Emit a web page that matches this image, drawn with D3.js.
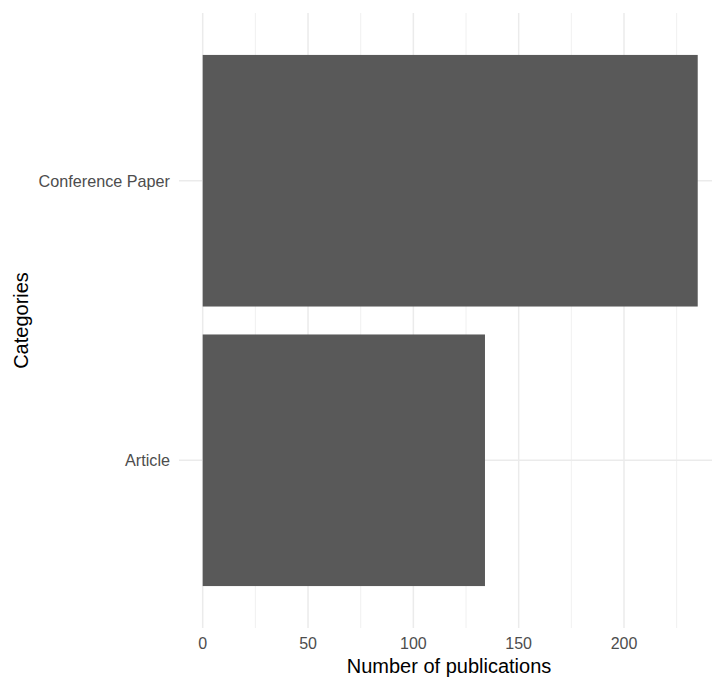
<!DOCTYPE html>
<html>
<head>
<meta charset="utf-8">
<script src="https://cdn.jsdelivr.net/npm/d3@7"></script>
<style>
  html, body { margin: 0; padding: 0; background: #ffffff; }
  svg { display: block; }
  text { font-family: "Liberation Sans", Arial, sans-serif; }
</style>
</head>
<body>
<svg id="chart" width="712" height="677"></svg>
<script>
// Data
const categories = ["Article", "Conference Paper"];
const publications = [134, 235];
const majorTicks = [0, 50, 100, 150, 200];
const minorTicks = [25, 75, 125, 175, 225];
const xTitle = "Number of publications";
const yTitle = "Categories";

const svg = d3.select("#chart");
const W = 712, H = 677;

// panel geometry
const panel = { left: 179, top: 13, bottom: 628 };

// x: continuous scale
const x = d3.scaleLinear()
  .domain([0, 200])
  .range([202.7, 624]);
// discrete y with 0.6 expansion
const yPos = d3.scaleLinear()
  .domain([0.4, 2.6])
  .range([panel.bottom, panel.top]);
const yIndex = c => categories.indexOf(c) + 1;
const bandPx = Math.abs(yPos(2) - yPos(1));
const barH = bandPx * 0.9;

const g = svg.append("g");

// clip
svg.append("defs").append("clipPath").attr("id", "clipP")
  .append("rect").attr("x", panel.left).attr("y", panel.top)
  .attr("width", W - panel.left).attr("height", panel.bottom - panel.top);

const grid = g.append("g").attr("clip-path", "url(#clipP)");

// minor vertical gridlines
grid.selectAll("line.minor").data(minorTicks).enter().append("line")
  .attr("x1", d => x(d)).attr("x2", d => x(d))
  .attr("y1", panel.top).attr("y2", panel.bottom)
  .attr("stroke", "#ebebeb").attr("stroke-width", 0.75);

// major vertical gridlines
grid.selectAll("line.major").data(majorTicks).enter().append("line")
  .attr("x1", d => x(d)).attr("x2", d => x(d))
  .attr("y1", panel.top).attr("y2", panel.bottom)
  .attr("stroke", "#ebebeb").attr("stroke-width", 1.5);

// major horizontal gridlines at categories
grid.selectAll("line.hmajor").data(categories).enter().append("line")
  .attr("x1", panel.left).attr("x2", W)
  .attr("y1", d => yPos(yIndex(d))).attr("y2", d => yPos(yIndex(d)))
  .attr("stroke", "#ebebeb").attr("stroke-width", 1.5);

// bars
g.selectAll("rect.bar").data(categories).enter().append("rect")
  .attr("x", x(0))
  .attr("y", d => yPos(yIndex(d)) - barH / 2)
  .attr("width", (d, i) => x(publications[i]) - x(0))
  .attr("height", barH)
  .attr("fill", "#595959");

// x tick labels
g.selectAll("text.xtick").data(majorTicks).enter().append("text")
  .attr("x", d => x(d)).attr("y", 649)
  .attr("text-anchor", "middle")
  .attr("font-size", 16).attr("fill", "#4d4d4d")
  .text(d => d);

// y tick labels
g.selectAll("text.ytick").data(categories).enter().append("text")
  .attr("x", 170).attr("y", d => yPos(yIndex(d)))
  .attr("dy", "0.36em")
  .attr("text-anchor", "end")
  .attr("font-size", 16.2).attr("fill", "#4d4d4d")
  .text(d => d);

// x title
g.append("text")
  .attr("x", 449)
  .attr("y", 673)
  .attr("text-anchor", "middle")
  .attr("font-size", 20).attr("fill", "#000000")
  .text(xTitle);

// y title
g.append("text")
  .attr("transform", `translate(27.5, ${(panel.top + panel.bottom) / 2}) rotate(-90)`)
  .attr("text-anchor", "middle")
  .attr("font-size", 20).attr("fill", "#000000")
  .text(yTitle);
</script>
</body>
</html>
